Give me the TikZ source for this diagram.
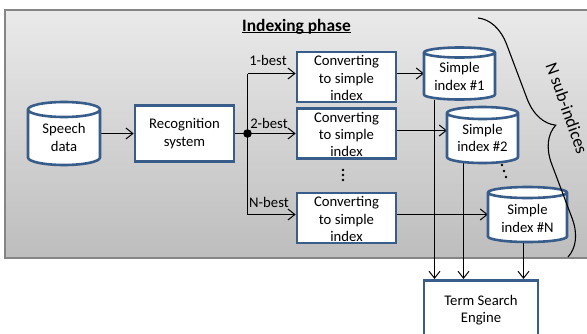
\documentclass[tikz,border=0pt]{standalone}
\usepackage{fontspec}
\setmainfont{Carlito}
\usetikzlibrary{arrows.meta,decorations.pathreplacing,calc}
\definecolor{boxblue}{HTML}{385D8A}
\definecolor{panelfrom}{HTML}{EAEAEA}
\definecolor{panelto}{HTML}{BDBDBD}
\definecolor{panelrule}{HTML}{858585}
\pgfdeclarelayer{panel}
\pgfdeclarelayer{links}
\pgfsetlayers{panel,links,main}

% database symbol drawn over the frame of an (invisible) rectangular node
\newcommand\drawdb[2]{%
  \draw[dbline, fill=white] let \p1=(#1.north west), \p2=(#1.south east),
      \n1={(\x2-\x1)/2} in
    (\x1,\y1-#2) -- (\x1,\y2+#2)
    arc[start angle=180, end angle=360, x radius={\n1*1pt}, y radius=#2]
    -- (\x2,\y1-#2)
    arc[start angle=0, end angle=180, x radius={\n1*1pt}, y radius=#2]
    -- cycle
    (\x1,\y1-#2)
    arc[start angle=180, end angle=360, x radius={\n1*1pt}, y radius=#2];
}

\begin{document}
\begin{tikzpicture}[x=1pt,y=1pt,
  every node/.style={font=\fontsize{14.7}{17.2}\selectfont, text=black},
  box/.style={draw=boxblue, line width=2.6pt, fill=white, rectangle,
    inner sep=0pt, align=center},
  dbslot/.style={rectangle, inner sep=0pt, outer sep=0pt},
  dbline/.style={draw=boxblue, line width=2.6pt},
  txt/.style={align=center, inner sep=0pt},
  conn/.style={line width=1pt, -{Straight Barb[length=7pt,width=11pt]}},
  plain/.style={line width=1pt},
  dotmark/.style={fill=black}]

\useasboundingbox (0,0) rectangle (587,-333);
\clip (0,0) rectangle (587,-333);

% shaded panel of the indexing phase
\begin{pgfonlayer}{panel}
  \shade[top color=panelfrom, bottom color=panelto] (5,-10) rectangle (600,-258);
  \draw[panelrule, line width=1.6pt] (600,-10) -- (5,-10) -- (5,-258) -- (600,-258);
\end{pgfonlayer}

% title
\node[inner sep=0pt, anchor=base, font=\fontsize{17.4}{20}\selectfont\bfseries]
  (title) at (296.5,-31) {Indexing phase};
\draw[line width=1.1pt] ([yshift=-1.6pt]title.base west) -- ([yshift=-1.6pt]title.base east);

% processing boxes
\node[box, minimum width=99pt, minimum height=56pt] (rec) at (184.5,-133.5) {Recognition\\system};
\node[box, minimum width=99pt, minimum height=50pt] (c1) at (346.5,-77) {};
\node[box, minimum width=99pt, minimum height=50pt] (c2) at (346.5,-133.5) {};
\node[box, minimum width=99pt, minimum height=50pt] (cN) at (346.5,-218) {};
\node[txt] (c1-t) at ([yshift=-1pt]c1.center) {Converting\\to simple\\index};
\node[txt] (c2-t) at ([yshift=-1pt]c2.center) {Converting\\to simple\\index};
\node[txt] (cN-t) at ([yshift=-1pt]cN.center) {Converting\\to simple\\index};
\node[box, minimum width=114pt, minimum height=60pt, anchor=north] (tse) at (481,-279) {Term Search\\Engine};

% databases
\node[dbslot, minimum width=72pt, minimum height=63pt] (speech) at (64,-133.5) {};
\node[dbslot, minimum width=71pt, minimum height=52pt] (s1) at (459.5,-73.5) {};
\node[dbslot, minimum width=71pt, minimum height=56pt] (s2) at (482.5,-135) {};
\node[dbslot, minimum width=79pt, minimum height=55pt] (sN) at (527.5,-214.5) {};
\drawdb{speech}{7.5pt}
\drawdb{s1}{5pt}
\drawdb{s2}{6pt}
\drawdb{sN}{5.5pt}
\node[txt] (speech-t) at ([yshift=-4pt]speech.center) {Speech\\data};
\node[txt] (s1-t) at ([yshift=-3pt]s1.center) {Simple\\index \#1};
\node[txt] (s2-t) at ([yshift=-3pt]s2.center) {Simple\\index \#2};
\node[txt] (sN-t) at ([yshift=-4pt]sN.center) {Simple\\index \#N};

% branching point
\node[circle, fill=black, inner sep=0pt, minimum size=8.6pt] (split) at (247.5,-133.5) {};

% n-best labels
\node[txt] (b1) at (268,-60) {1-best};
\node[txt] (b2) at (269,-123) {2-best};
\node[txt] (bN) at (269,-202) {N-best};

% ellipsis marks
\foreach \yy in {170,175,180} \fill[dotmark] (343,-\yy) circle (1.4pt);
\fill[dotmark] (502,-165) circle (1.4pt);
\fill[dotmark] (504,-171) circle (1.4pt);
\fill[dotmark] (506,-177) circle (1.4pt);

% connectors
\coordinate (c2out) at ([yshift=3pt]c2.east);
\coordinate (d1) at ([xshift=10.5pt]s1.south west);
\coordinate (d2) at ([xshift=16.5pt]s2.south west);
\coordinate (d3) at ([xshift=-4pt]sN.south);
\begin{pgfonlayer}{links}
  \draw[conn] (speech.east) -- (rec.west);
  \draw[plain] (rec.east) -- (split.center);
  \draw[plain] (split.center |- s1.west) -- (split.center |- sN.west);
  \draw[conn] (split.center |- s1.west) -- (c1.west |- s1.west);
  \draw[conn] (split.center) -- (c2.west);
  \draw[conn] (split.center |- sN.west) -- (cN.west |- sN.west);
  \draw[conn] (c1.east |- s1.west) -- (s1.west);
  \draw[conn] (c2out) -- (c2out -| s2.west);
  \draw[conn] (cN.east |- sN.west) -- (sN.west);
  \draw[conn] (d1) -- (d1 |- tse.north);
  \draw[conn] (d2) -- (d2 |- tse.north);
  \draw[conn] (d3) -- (d3 |- tse.north);
\end{pgfonlayer}

% brace grouping the sub-indices
\coordinate (bt) at (478,-18);
\coordinate (bb) at (568,-257);
\draw[line width=1.1pt, decorate, decoration={brace, amplitude=35pt}] (bt) -- (bb);
\node[txt, rotate=-70.5, font=\fontsize{17.5}{20}\selectfont] (nsub) at (567,-108) {N sub-indices};

\end{tikzpicture}
\end{document}
